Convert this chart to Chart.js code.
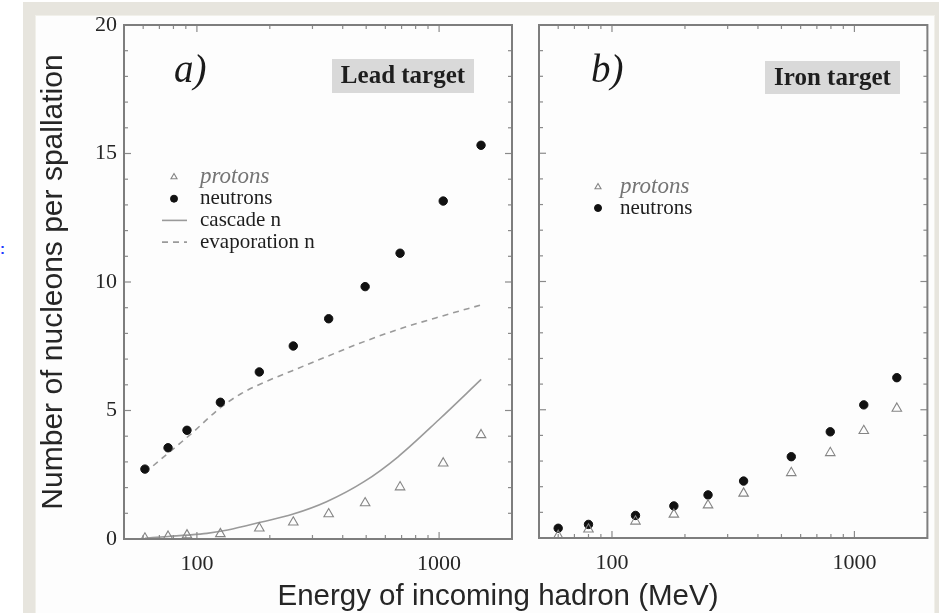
<!DOCTYPE html>
<html>
<head>
<meta charset="utf-8">
<script src="https://cdn.jsdelivr.net/npm/chart.js@4.4.0/dist/chart.umd.min.js"></script>
<style>
  html, body { margin:0; padding:0; background:#fff; }
  body { width:946px; height:613px; position:relative; overflow:hidden; font-family:"Liberation Sans", Arial, sans-serif; }
  #frame { position:absolute; left:23px; top:2px; width:916px; height:611px; background:#e7e5de; }
  #inner { position:absolute; left:36px; top:16px; width:898px; height:597px; background:#fdfdfd; box-shadow:0 0 0 1px #f1f0ea; }
  .panel { position:absolute; top:17px; height:596px; }
  #wrapA { left:36px; width:490px; }
  #wrapB { left:526px; width:408px; }
  #xTitle { position:absolute; left:248px; width:500px; top:579px; text-align:center; font-size:29.5px; line-height:32px; color:#262626; }
  #colon { position:absolute; left:0; top:240px; color:#1f3cff; font-size:15px; font-weight:bold; }
</style>
</head>
<body>
<div id="frame"></div>
<div id="inner"></div>
<div id="colon">:</div>
<div class="panel" id="wrapA"><canvas id="chartA" width="490" height="596"></canvas></div>
<div class="panel" id="wrapB"><canvas id="chartB" width="408" height="596"></canvas></div>
<div id="xTitle">Energy of incoming hadron (MeV)</div>
<script>
/* === DATA === */
// a) lead target
const leadEnergy   = [61, 76, 91, 125, 181, 250, 350, 495, 690, 1040, 1490];
const leadNeutrons = [2.72, 3.55, 4.23, 5.32, 6.5, 7.51, 8.57, 9.82, 11.12, 13.15, 15.32];
const leadProtons  = [0.03, 0.1, 0.15, 0.2, 0.42, 0.65, 0.97, 1.4, 2.02, 2.95, 4.05];
const cascadeEnergy = [61, 76, 91, 110, 134, 185, 248, 343, 490, 677, 1000, 1492];
const cascadeN      = [0.03, 0.1, 0.15, 0.22, 0.35, 0.66, 0.96, 1.45, 2.23, 3.2, 4.65, 6.21];
const evapEnergy = [66, 97, 125, 152, 185, 248, 348, 490, 701, 1033, 1480];
const evapN      = [2.85, 4.18, 5.11, 5.65, 6.05, 6.55, 7.12, 7.68, 8.2, 8.68, 9.1];
// b) iron target
const ironEnergy   = [60, 80, 125, 180, 249, 349, 549, 795, 1093, 1496];
const ironNeutrons = [0.38, 0.53, 0.88, 1.25, 1.68, 2.22, 3.17, 4.14, 5.19, 6.25];
const ironProtons  = [0.09, 0.34, 0.65, 0.92, 1.28, 1.74, 2.54, 3.32, 4.18, 5.05];

// axes
const xLabels = [100, 1000];
const xMarks  = [50, 60, 70, 80, 90, 100, 200, 300, 400, 500, 600, 700, 800, 900, 1000, 2000];
const yLabels = [0, 5, 10, 15, 20];

const pts = (xs, ys) => xs.map((x, i) => ({x: x, y: ys[i]}));

/* === PLUGINS === */
const frameTicks = {
  id: 'frameTicks',
  afterDatasetsDraw(chart){
    const {ctx, chartArea: a, scales: {x, y}} = chart;
    ctx.save();
    ctx.strokeStyle = '#8a8a8a';
    ctx.lineWidth = 1.2;
    const seg = (x1, y1, x2, y2) => { ctx.beginPath(); ctx.moveTo(x1, y1); ctx.lineTo(x2, y2); ctx.stroke(); };
    xMarks.forEach(v => {
      const px = x.getPixelForValue(v);
      const len = xLabels.includes(v) ? 7 : 4;
      seg(px, a.bottom, px, a.bottom - len);
      seg(px, a.top, px, a.top + len);
    });
    for(let v = y.min; v <= y.max; v++){
      const py = y.getPixelForValue(v);
      const len = yLabels.includes(v) ? 7 : 4;
      seg(a.left, py, a.left + len, py);
      seg(a.right, py, a.right - len, py);
    }
    ctx.strokeStyle = '#7e7e7e';
    ctx.lineWidth = 2;
    ctx.strokeRect(a.left, a.top, a.right - a.left, a.bottom - a.top);
    ctx.restore();
  }
};

const panelNotes = {
  id: 'panelNotes',
  afterDraw(chart, args, o){
    const {ctx, chartArea: a} = chart;
    ctx.save();
    ctx.textBaseline = 'middle';
    ctx.textAlign = 'left';
    ctx.fillStyle = '#1a1a1a';
    ctx.font = 'italic 39px "Liberation Serif"';
    ctx.fillText(o.letter, a.left + o.letterAt[0], a.top + o.letterAt[1]);

    const [bx, by, bw, bh] = o.box;
    ctx.fillStyle = '#d9d9d9';
    ctx.fillRect(a.left + bx, a.top + by, bw, bh);
    ctx.fillStyle = '#1e1e1e';
    ctx.font = 'bold 25px "Liberation Serif"';
    ctx.textAlign = 'center';
    ctx.fillText(o.target, a.left + bx + bw / 2, a.top + by + bh / 2 + 1);

    ctx.textAlign = 'left';
    const mx = a.left + o.legendAt[0], tx = a.left + o.legendAt[1];
    chart.data.datasets.forEach((ds, i) => {
      const ly = a.top + o.legendAt[2] + i * o.legendStep;
      ctx.strokeStyle = ds.borderColor;
      ctx.fillStyle = ds.backgroundColor;
      if(ds.showLine){
        ctx.lineWidth = ds.borderWidth;
        ctx.setLineDash(ds.borderDash || []);
        ctx.beginPath(); ctx.moveTo(mx - 12, ly); ctx.lineTo(mx + 13, ly); ctx.stroke();
        ctx.setLineDash([]);
      } else {
        ctx.lineWidth = ds.borderWidth;
        Chart.helpers.drawPoint(ctx, {pointStyle: ds.pointStyle, radius: ds.legendRadius, borderWidth: ds.borderWidth, rotation: 0}, mx, ly);
      }
      ctx.fillStyle = ds.legendColor;
      ctx.font = (ds.legendItalic ? 'italic 23px' : '21px') + ' "Liberation Serif"';
      ctx.fillText(ds.label, tx, ly);
    });
    ctx.restore();
  }
};

/* === DATASETS === */
function protonSet(data){
  return {label:'protons', data:data, pointStyle:'triangle', pointRadius:5.5, legendRadius:3.5,
    borderColor:'#858585', backgroundColor:'rgba(255,255,255,0)', borderWidth:1.1,
    showLine:false, order:1, legendColor:'#757575', legendItalic:true};
}
function neutronSet(data){
  return {label:'neutrons', data:data, pointStyle:'circle', pointRadius:4.2, legendRadius:3.5,
    borderColor:'#111', backgroundColor:'#111', borderWidth:1,
    showLine:false, order:1, legendColor:'#1e1e1e'};
}
function lineSet(label, data, dash){
  return {label:label, data:data, showLine:true, pointRadius:0, borderColor:'#9a9a9a',
    backgroundColor:'rgba(0,0,0,0)', borderWidth:1.6, borderDash:dash,
    cubicInterpolationMode:'monotone', order:2, legendColor:'#1e1e1e'};
}

const tickFont = {family:'"Liberation Serif"', size:22};

function xScale(height){
  return {
    type:'logarithmic', min:50, max:2000,
    grid:{display:false, drawTicks:false}, border:{display:false},
    afterBuildTicks: s => { s.ticks = xLabels.map(v => ({value:v})); },
    ticks:{font:tickFont, color:'#262626', padding:12, maxRotation:0, autoSkip:false,
      callback: v => String(v)},
    afterFit: s => { s.height = height; s.paddingLeft = 0; s.paddingRight = 0; }
  };
}

/* === CHART A === */
new Chart(document.getElementById('chartA'), {
  type:'scatter',
  data:{datasets:[
    protonSet(pts(leadEnergy, leadProtons)),
    neutronSet(pts(leadEnergy, leadNeutrons)),
    lineSet('cascade n', pts(cascadeEnergy, cascadeN), []),
    lineSet('evaporation n', pts(evapEnergy, evapN), [6, 5])
  ]},
  options:{
    responsive:false, animation:false,
    layout:{padding:{left:0, right:14, top:8, bottom:0}},
    scales:{
      x: xScale(74),
      y: {
        min:0, max:20,
        grid:{display:false, drawTicks:false}, border:{display:false},
        afterBuildTicks: s => { s.ticks = yLabels.map(v => ({value:v})); },
        ticks:{font:tickFont, color:'#262626', padding:7},
        title:{display:true, text:'Number of nucleons per spallation', color:'#262626',
          font:{family:'"Liberation Sans"', size:30}, padding:{top:0, bottom:0}},
        afterFit: s => { s.width = 88; s.paddingTop = 0; s.paddingBottom = 0; }
      }
    },
    plugins:{
      legend:{display:false}, tooltip:{enabled:false},
      panelNotes:{letter:'a)', letterAt:[50, 47], box:[208, 34, 142, 34], target:'Lead target',
        legendAt:[50, 76, 152], legendStep:21.7}
    }
  },
  plugins:[frameTicks, panelNotes]
});

/* === CHART B === */
new Chart(document.getElementById('chartB'), {
  type:'scatter',
  data:{datasets:[
    protonSet(pts(ironEnergy, ironProtons)),
    neutronSet(pts(ironEnergy, ironNeutrons))
  ]},
  options:{
    responsive:false, animation:false,
    layout:{padding:{left:13, right:6, top:8, bottom:0}},
    scales:{
      x: xScale(75),
      y: {min:0, max:20, display:false}
    },
    plugins:{
      legend:{display:false}, tooltip:{enabled:false},
      panelNotes:{letter:'b)', letterAt:[52, 47], box:[226, 36, 135, 33], target:'Iron target',
        legendAt:[59, 81, 162], legendStep:21}
    }
  },
  plugins:[frameTicks, panelNotes]
});
</script>
</body>
</html>
